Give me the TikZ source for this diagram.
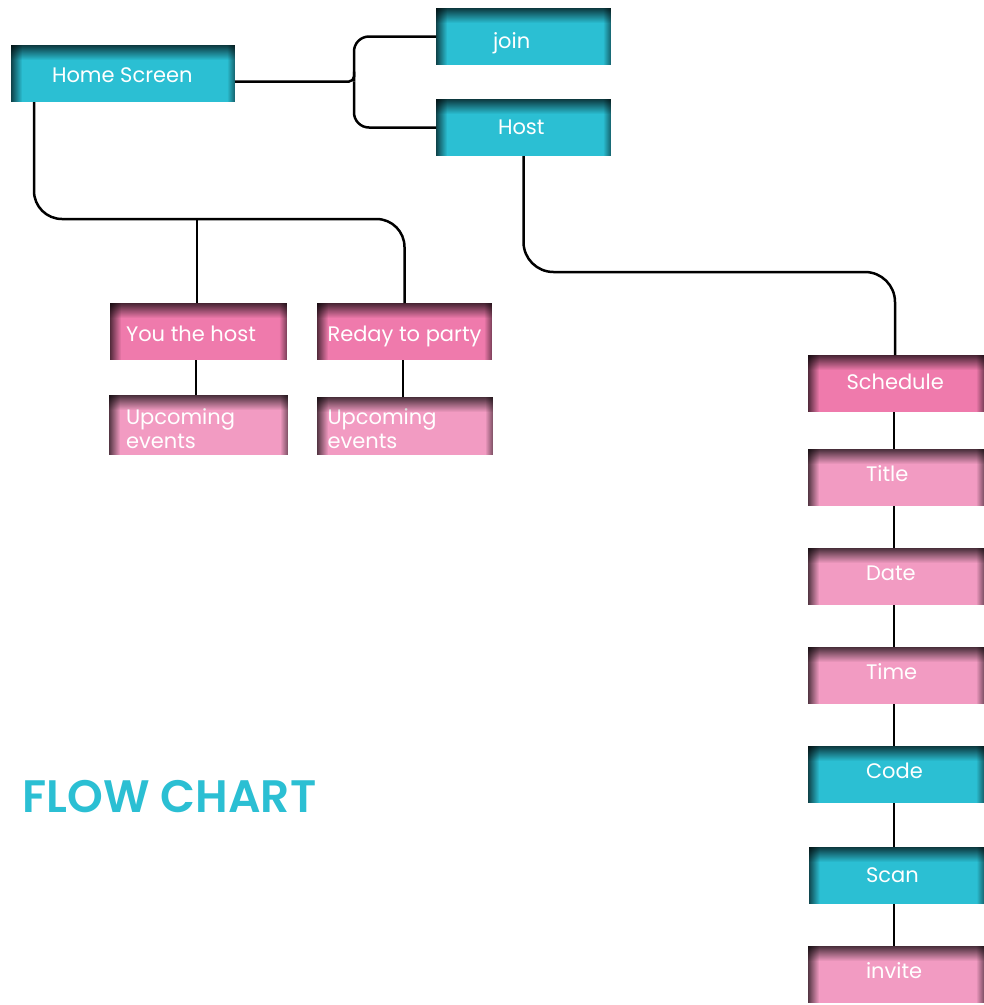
\documentclass[tikz,border=0pt]{standalone}
\usepackage{fontspec}
\newfontfamily\poppins{Poppins}
\IfFontExistsTF{Poppins SemiBold}{\newfontfamily\poppinsheavy{Poppins SemiBold}}{\newfontfamily\poppinsheavy{Poppins}[FakeBold=1.2]}
\usetikzlibrary{fadings}
\definecolor{tealbox}{RGB}{43,191,211}
\definecolor{pinkdark}{RGB}{239,122,172}
\definecolor{pinklight}{RGB}{242,155,194}
\tikzfading[name=fadetop, top color=transparent!30, bottom color=transparent!100]
\tikzfading[name=fadeleft, left color=transparent!35, right color=transparent!100]
\tikzfading[name=faderight, right color=transparent!50, left color=transparent!100]
\tikzset{
  box/.style={rectangle, inner sep=0pt, outer sep=0pt, text=white,
    font=\poppins\fontsize{21}{24}\selectfont, minimum height=57pt,
    text height=0pt, text depth=0pt},
  conn/.style={line width=2.5pt, black},
}
% width, left pad, drop of baseline below centre, text
\newcommand{\bt}[4]{\makebox[#1][l]{\hspace*{#2}\raisebox{-#3}{#4}}}
\newcommand{\twolines}[2]{\begin{tabular}[t]{@{}l@{}}#1\\#2\end{tabular}}
\newcommand{\innershadow}[1]{%
  \fill[black, path fading=fadetop] (#1.north west) rectangle ([yshift=-15pt]#1.north east);
  \fill[black, path fading=fadeleft] (#1.north west) rectangle ([xshift=11pt]#1.south west);
  \fill[black, path fading=faderight] ([xshift=-8pt]#1.north east) rectangle (#1.south east);
}
\begin{document}
\begin{tikzpicture}[x=1pt,y=-1pt]
\fill[white] (0,0) rectangle (984,1005);
\useasboundingbox (0,0) rectangle (984,1005);

% boxes
\node[box, fill=tealbox, minimum width=224pt] (home) at (123,73.5) {\bt{224pt}{41pt}{9pt}{Home Screen}};
\node[box, fill=tealbox, minimum width=175pt] (join) at (523.5,36.5) {\bt{175pt}{57pt}{12pt}{join}};
\node[box, fill=tealbox, minimum width=175pt] (host) at (523.5,127.5) {\bt{175pt}{62pt}{7pt}{Host}};
\node[box, fill=pinkdark, minimum width=177pt] (youhost) at (198.5,331.5) {\bt{177pt}{16pt}{10pt}{You the host}};
\node[box, fill=pinkdark, minimum width=175pt] (reday) at (404.5,331.5) {\bt{175pt}{10.5pt}{10pt}{Reday to party}};
\node[box, fill=pinklight, minimum width=179pt, minimum height=60pt] (up1) at (198.5,425) {\bt{179pt}{17pt}{-0.7pt}{\twolines{Upcoming}{events}}};
\node[box, fill=pinklight, minimum width=176pt, minimum height=58pt] (up2) at (405,426) {\bt{176pt}{10.5pt}{-1.5pt}{\twolines{Upcoming}{events}}};
\node[box, fill=pinkdark, minimum width=176pt] (sched) at (896,383.5) {\bt{176pt}{38.5pt}{6pt}{Schedule}};
\node[box, fill=pinklight, minimum width=176pt] (title) at (896,477.5) {\bt{176pt}{58pt}{4pt}{Title}};
\node[box, fill=pinklight, minimum width=176pt] (date) at (896,576.5) {\bt{176pt}{58pt}{3.5pt}{Date}};
\node[box, fill=pinklight, minimum width=176pt] (time) at (896,675.5) {\bt{176pt}{58pt}{3.8pt}{Time}};
\node[box, fill=tealbox, minimum width=176pt] (code) at (896,774.5) {\bt{176pt}{58pt}{3.5pt}{Code}};
\node[box, fill=tealbox, minimum width=176pt] (scan) at (896.5,875.5) {\bt{176pt}{57.5pt}{7pt}{Scan}};
\node[box, fill=pinklight, minimum width=176pt] (invite) at (896,974.5) {\bt{176pt}{58pt}{3.5pt}{invite}};

\foreach \n in {home,join,host,youhost,reday,up1,up2,sched,title,date,time,code,scan,invite} {\innershadow{\n}}

% connectors
\coordinate (hj) at (354,81.5);
\draw[conn, rounded corners=5pt] (home.east |- hj) -| ([yshift=10pt]hj);
\draw[conn, rounded corners=15pt] (hj) |- (join.west);
\draw[conn, rounded corners=15pt] (hj) |- (host.west);
\draw[conn, rounded corners=28pt] ([xshift=23pt]home.south west) -- ++(0,117) -| (reday.north);
\draw[conn] ([xshift=-1.5pt]youhost.north) -- ++(0,-84);
\draw[conn] ([xshift=-2.5pt]youhost.south) -- ([xshift=-2.5pt]up1.north);
\draw[conn] ([xshift=-1.5pt]reday.south) -- ([xshift=-2pt]up2.north);
\draw[conn, rounded corners=30pt] (host.south) -- ++(0,116) -| ([xshift=-1pt]sched.north);
\draw[conn] ([xshift=-2pt]sched.south) -- ([xshift=-2pt]title.north);
\draw[conn] ([xshift=-2pt]title.south) -- ([xshift=-2pt]date.north);
\draw[conn] ([xshift=-2pt]date.south) -- ([xshift=-2pt]time.north);
\draw[conn] ([xshift=-2pt]time.south) -- ([xshift=-2pt]code.north);
\draw[conn] ([xshift=-2pt]code.south) -- ([xshift=-2.5pt]scan.north);
\draw[conn] ([xshift=-2.5pt]scan.south) -- ([xshift=-2pt]invite.north);

\node[anchor=base west, inner sep=0pt, text=tealbox, font=\poppinsheavy\fontsize{45.5}{54}\selectfont] (fc) at (22.5,812) {FLOW CHART};
\end{tikzpicture}
\end{document}
